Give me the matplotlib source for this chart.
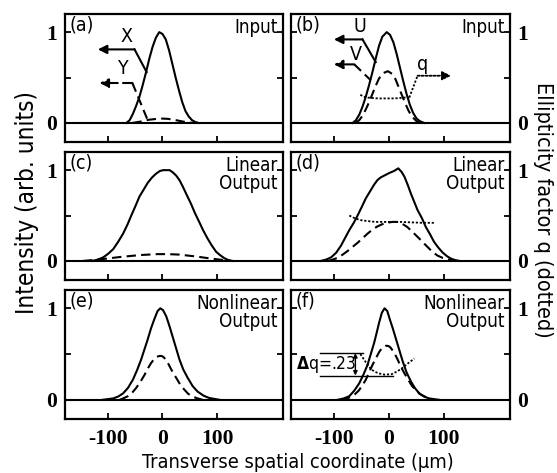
import matplotlib
matplotlib.use("Agg")
import matplotlib.pyplot as plt
from matplotlib.ticker import FixedLocator

plt.rcParams['font.family'] = ['DejaVu Sans']
plt.rcParams['font.stretch'] = 'condensed'

# ---------------- data ----------------
xticks = [-100, 0, 100]
xtick_labels = ['-100', '0', '100']
yticks = [0, 1]
ytick_labels = ['0', '1']

# (a) input, X (solid) and Y (dashed)
a_sol_x = [-66, -60, -54, -48, -42, -36, -30, -24, -18, -12, -6, 0, 6, 12, 18, 24, 30, 36, 42, 48, 54, 60, 66]
a_sol_y = [0, 0.03, 0.10, 0.19, 0.29, 0.42, 0.56, 0.71, 0.84, 0.94, 1.0, 0.98, 0.92, 0.80, 0.65, 0.50, 0.36, 0.23, 0.13, 0.07, 0.03, 0.01, 0]
a_dash_x = [-55, -40, -25, -10, 0, 10, 25, 40, 55]
a_dash_y = [0, 0.015, 0.035, 0.045, 0.048, 0.045, 0.03, 0.012, 0]

# (b) input, U (solid), V (dashed), q (dotted)
b_sol_x = [-66, -60, -54, -48, -42, -36, -30, -24, -18, -12, -4, 2, 8, 14, 20, 26, 32, 38, 44, 50, 56, 64]
b_sol_y = [0, 0.03, 0.09, 0.18, 0.29, 0.42, 0.56, 0.71, 0.85, 0.95, 1.0, 0.97, 0.89, 0.76, 0.61, 0.46, 0.32, 0.20, 0.11, 0.05, 0.02, 0]
b_dash_x = [-61, -54, -48, -42, -36, -30, -24, -18, -10, -2, 6, 12, 18, 24, 30, 36, 42, 50, 58]
b_dash_y = [0, 0.03, 0.08, 0.15, 0.23, 0.32, 0.41, 0.49, 0.55, 0.57, 0.54, 0.48, 0.39, 0.30, 0.21, 0.13, 0.07, 0.02, 0]
b_q_x = [-52, -46, -40, -30, -20, -10, 0, 10, 20, 30, 37]
b_q_y = [0.31, 0.29, 0.28, 0.275, 0.27, 0.27, 0.27, 0.27, 0.275, 0.28, 0.28]

# (c) linear output
c_sol_x = [-128, -118, -108, -99, -90, -81, -72, -64, -57, -49, -42, -34, -27, -19, -12, -5, 1, 7, 13, 19, 25, 31, 37, 44, 52, 59, 67, 74, 82, 90, 98, 106, 113, 120, 128]
c_sol_y = [0, 0.015, 0.04, 0.08, 0.13, 0.21, 0.30, 0.40, 0.50, 0.61, 0.71, 0.79, 0.86, 0.92, 0.96, 0.99, 1.0, 1.0, 1.0, 0.975, 0.94, 0.89, 0.82, 0.73, 0.63, 0.53, 0.43, 0.34, 0.25, 0.17, 0.10, 0.06, 0.03, 0.01, 0]
c_dash_x = [-145, -110, -75, -40, -10, 10, 30, 60, 90, 125]
c_dash_y = [0, 0.02, 0.045, 0.065, 0.075, 0.075, 0.07, 0.05, 0.025, 0]

# (d) linear output
d_sol_x = [-124, -114, -105, -96, -87, -80, -72, -64, -57, -49, -42, -34, -27, -21, -15, -7, 1, 9, 17, 23, 28, 34, 40, 46, 52, 60, 67, 75, 82, 90, 98, 106, 113, 120, 128]
d_sol_y = [0, 0.015, 0.04, 0.09, 0.17, 0.25, 0.34, 0.42, 0.50, 0.60, 0.69, 0.77, 0.84, 0.89, 0.92, 0.945, 0.97, 0.99, 1.02, 0.98, 0.93, 0.84, 0.74, 0.65, 0.56, 0.47, 0.375, 0.29, 0.21, 0.145, 0.09, 0.05, 0.025, 0.01, 0]
d_dash_x = [-111, -102, -93, -84, -75, -66, -57, -48, -39, -30, -21, -12, -3, 6, 15, 24, 33, 42, 52, 61, 70, 79, 88, 97, 106, 118]
d_dash_y = [0, 0.015, 0.035, 0.07, 0.11, 0.155, 0.20, 0.25, 0.30, 0.345, 0.38, 0.405, 0.42, 0.43, 0.43, 0.41, 0.375, 0.325, 0.265, 0.21, 0.155, 0.10, 0.06, 0.035, 0.02, 0]
d_q_x = [-72, -62, -52, -40, -25, -10, 5, 20, 40, 60, 82]
d_q_y = [0.50, 0.47, 0.45, 0.44, 0.43, 0.43, 0.43, 0.43, 0.425, 0.42, 0.42]

# (e) nonlinear output
e_sol_x = [-109, -90, -81, -72, -63, -54, -46, -39, -33, -27, -21, -15, -9, -4, 1, 7, 13, 19, 25, 31, 38, 46, 55, 64, 75, 85, 104]
e_sol_y = [0, 0.015, 0.035, 0.07, 0.13, 0.22, 0.33, 0.44, 0.55, 0.66, 0.78, 0.88, 0.97, 1.0, 0.98, 0.91, 0.80, 0.68, 0.56, 0.44, 0.33, 0.24, 0.15, 0.09, 0.045, 0.02, 0]
e_dash_x = [-78, -70, -63, -55, -48, -40, -33, -27, -21, -16, -12, -8, -4, 0, 3, 7, 10, 17, 25, 32, 40, 47, 55, 64, 73]
e_dash_y = [0, 0.02, 0.04, 0.08, 0.13, 0.20, 0.27, 0.34, 0.40, 0.44, 0.46, 0.475, 0.48, 0.475, 0.46, 0.43, 0.40, 0.32, 0.24, 0.17, 0.11, 0.065, 0.035, 0.015, 0]

# (f) nonlinear output
f_sol_x = [-93, -82, -72, -63, -54, -46, -39, -33, -27, -22, -18, -13, -8, -3, 1, 7, 13, 19, 25, 32, 40, 47, 55, 64, 73, 91]
f_sol_y = [0, 0.015, 0.04, 0.10, 0.18, 0.28, 0.38, 0.50, 0.62, 0.74, 0.84, 0.95, 1.0, 0.97, 0.89, 0.78, 0.66, 0.54, 0.42, 0.30, 0.20, 0.13, 0.07, 0.035, 0.015, 0]
f_dash_x = [-87, -78, -70, -62, -55, -48, -42, -36, -30, -24, -18, -14, -10, -6, -3, 0, 3, 9, 15, 21, 28, 35, 42, 50, 57, 70, 82]
f_dash_y = [0, 0.01, 0.03, 0.06, 0.10, 0.16, 0.22, 0.30, 0.38, 0.45, 0.52, 0.555, 0.58, 0.59, 0.59, 0.585, 0.57, 0.52, 0.45, 0.37, 0.29, 0.22, 0.15, 0.10, 0.06, 0.02, 0]
f_q_x = [-52, -42, -32, -20, -8, 5, 15, 25, 35, 46]
f_q_y = [0.50, 0.41, 0.33, 0.29, 0.275, 0.28, 0.31, 0.35, 0.40, 0.45]

panel_letters = ['(a)', '(b)', '(c)', '(d)', '(e)', '(f)']
panel_titles = ['Input', 'Input', 'Linear\nOutput', 'Linear\nOutput', 'Nonlinear\nOutput', 'Nonlinear\nOutput']

# ---------------- figure ----------------
W, H = 557, 473
fig = plt.figure(figsize=(W / 100, H / 100), dpi=100)

def px_axes(x0, y0, x1, y1):
    return fig.add_axes([x0 / W, 1 - y1 / H, (x1 - x0) / W, (y1 - y0) / H])

cols = [(65, 283), (291, 510)]
rows = [(14, 142), (152, 280), (290, 419)]

axes = []
for r, (y0, y1) in enumerate(rows):
    for c, (x0, x1) in enumerate(cols):
        axes.append(px_axes(x0, y0, x1, y1))

SOL = dict(color='k', lw=1.5, ls='-')
DASH = dict(color='k', lw=1.5, ls=(0, (4.5, 2.5)))
DOT = dict(color='k', lw=1.3, ls=(0, (1.2, 1.0)))

serif = dict(family='Liberation Serif', weight='bold', size=15.5)

for i, ax in enumerate(axes):
    r, c = divmod(i, 2)
    ax.set_xlim(-178, 220)
    ax.set_ylim(-0.21, 1.2)
    ax.axhline(0, color='k', lw=1.5, zorder=1)
    for s in ax.spines.values():
        s.set_linewidth(1.6)
    ax.xaxis.set_major_locator(FixedLocator(xticks))
    ax.yaxis.set_major_locator(FixedLocator(yticks))
    ax.yaxis.set_minor_locator(FixedLocator([0.5]))
    ax.tick_params(axis='both', which='both', direction='in', length=4, width=1.3,
                   left=True, right=True, top=False, bottom=True)
    ax.tick_params(axis='x', pad=7)
    if r == 2:
        ax.set_xticklabels(xtick_labels, fontdict=serif)
    else:
        ax.set_xticklabels([])
    if c == 0:
        ax.tick_params(axis='y', labelleft=True, labelright=False, pad=6)
        ax.set_yticklabels(ytick_labels, fontdict=serif)
    else:
        ax.tick_params(axis='y', labelleft=False, labelright=True, pad=5)
        ax.set_yticklabels(ytick_labels, fontdict=serif)
    ax.text(0.02, 0.985, panel_letters[i], transform=ax.transAxes, ha='left', va='top', fontsize=14)
    ax.text(0.975, 0.97, panel_titles[i], transform=ax.transAxes, ha='right', va='top',
            fontsize=13.5, linespacing=0.95, multialignment='right')

ax_a, ax_b, ax_c, ax_d, ax_e, ax_f = axes

ax_a.plot(a_sol_x, a_sol_y, **SOL)
ax_a.plot(a_dash_x, a_dash_y, **DASH)
ax_b.plot(b_sol_x, b_sol_y, **SOL)
ax_b.plot(b_dash_x, b_dash_y, **DASH)
ax_b.plot(b_q_x, b_q_y, **DOT)
ax_c.plot(c_sol_x, c_sol_y, **SOL)
ax_c.plot(c_dash_x, c_dash_y, **DASH)
ax_d.plot(d_sol_x, d_sol_y, **SOL)
ax_d.plot(d_dash_x, d_dash_y, **DASH)
ax_d.plot(d_q_x, d_q_y, **DOT)
ax_e.plot(e_sol_x, e_sol_y, **SOL)
ax_e.plot(e_dash_x, e_dash_y, **DASH)
ax_f.plot(f_sol_x, f_sol_y, **SOL)
ax_f.plot(f_dash_x, f_dash_y, **DASH)
ax_f.plot(f_q_x, f_q_y, **DOT)

# ---------------- annotations ----------------
def leader(ax, label, lpos, head, knee, end, style, hs='-|>'):
    ax.plot([knee[0], end[0]], [knee[1], end[1]], **style)
    ax.annotate('', xy=head, xytext=knee,
                arrowprops=dict(arrowstyle=hs, color='k', lw=style['lw'], ls=style['ls'],
                                mutation_scale=13, shrinkA=0, shrinkB=0))
    ax.text(lpos[0], lpos[1], label, ha='center', va='center', fontsize=14)

leader(ax_a, 'X', (-65, 0.95), (-118, 0.81), (-51, 0.81), (-29, 0.56), SOL)
leader(ax_a, 'Y', (-73, 0.60), (-115, 0.44), (-55, 0.44), (-27, 0.03), DASH)
leader(ax_b, 'U', (-52, 1.06), (-100, 0.92), (-48, 0.92), (-24, 0.67), SOL)
leader(ax_b, 'V', (-60, 0.75), (-100, 0.645), (-63, 0.645), (-33, 0.47), DASH)
# q arrow (dotted leader to the right)
ax_b.plot([37, 52], [0.28, 0.52], **DOT)
ax_b.annotate('', xy=(113, 0.52), xytext=(52, 0.52),
              arrowprops=dict(arrowstyle='-|>', color='k', lw=1.3, ls=(0, (1.2, 1.0)),
                              mutation_scale=13, shrinkA=0, shrinkB=0))
ax_b.text(61, 0.64, 'q', ha='center', va='center', fontsize=14)

# delta q marker in (f)
ax_f.plot([-125, -47], [0.51, 0.51], color='k', lw=1.0)
ax_f.plot([-125, 7], [0.265, 0.265], color='k', lw=1.0)
ax_f.annotate('', xy=(-61, 0.51), xytext=(-61, 0.265),
              arrowprops=dict(arrowstyle='<|-|>', color='k', lw=1.0, mutation_scale=6,
                              shrinkA=0, shrinkB=0))
ax_f.text(-169, 0.385, r'$\mathbf{\Delta}$q=.23', ha='left', va='center', fontsize=12.5)

# ---------------- axis labels ----------------
fig.text(27 / W, 1 - 203 / H, 'Intensity (arb. units)', rotation=90, ha='center', va='center', fontsize=17.5)
fig.text(543 / W, 1 - 210 / H, 'Ellipticity factor q (dotted)', rotation=270, ha='center', va='center', fontsize=15.5)
fig.text(298 / W, 1 - 462 / H, 'Transverse spatial coordinate (µm)', ha='center', va='center', fontsize=14.3)

fig.savefig('out.png', dpi=100)
